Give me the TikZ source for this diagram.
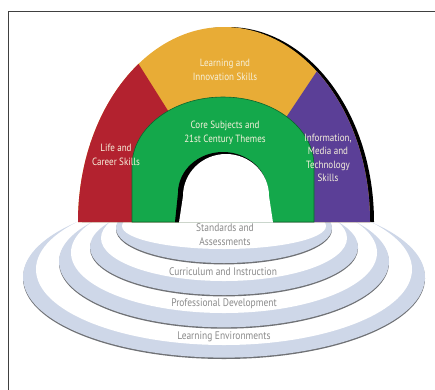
\documentclass[tikz,border=0pt]{standalone}
\usepackage{fontspec}
\setmainfont{PT Sans}[FakeStretch=0.86]
\usetikzlibrary{calc,positioning}

\definecolor{lifered}{HTML}{B3222F}
\definecolor{innoyellow}{HTML}{E8AC36}
\definecolor{coregreen}{HTML}{14A84B}
\definecolor{mediapurple}{HTML}{5B3F97}
\definecolor{ringblue}{HTML}{CED7E8}
\definecolor{ringline}{HTML}{6F7175}
\definecolor{ringtext}{HTML}{8A8A8A}
\definecolor{archtext}{HTML}{F6F1DC}

\tikzset{
  archlabel/.style={text=archtext, align=center, inner sep=0pt, font=\fontsize{10.5}{13.5}\selectfont},
  ringlabel/.style={text=ringtext, align=center, inner sep=0pt, font=\fontsize{11}{14}\selectfont},
}

\begin{document}
\begin{tikzpicture}[x=1pt,y=-1pt]
\useasboundingbox (0,0) rectangle (435,389);
% frame
\draw[black!75, line width=1pt] (8,395) -- (8,11) -- (440,11);

% rings: outer x/y radius, centre y, inner x/y radius, inner centre y
\foreach \a/\b/\c/\ia/\ib/\ic in {201/80.6/277/188/75.7/269.3,
                                  165/65.8/261.5/153/60.4/252.6,
                                  134/47.9/247.1/123/42.9/238.1,
                                  108/35/228/102/23/226}{
  \fill[ringline] (224,\c+1.4) ellipse [x radius=\a, y radius=\b];
  \fill[ringblue] (224,\c) ellipse [x radius=\a, y radius=\b];
  \fill[white] (224,\ic) ellipse [x radius=\ia, y radius=\ib];
}

% arch shadow
\fill[black] (82,222) arc[start angle=180, end angle=360, x radius=146, y radius=195] -- cycle;
% outer arch in three parts
\begin{scope}
\clip (78,222) arc[start angle=180, end angle=360, x radius=146, y radius=195] -- cycle;
\fill[innoyellow] (0,0) rectangle (435,225);
\coordinate (RY) at (138,63);
\coordinate (RY') at (172,117);
\coordinate (YP) at (317,71);
\coordinate (YP') at (283,122);
\fill[lifered] ($(RY)!-2!(RY')$) -- ($(RY)!3!(RY')$) -- (0,225) -- (0,-60) -- cycle;
\fill[mediapurple] ($(YP)!-2!(YP')$) -- ($(YP)!3!(YP')$) -- (440,225) -- (440,-60) -- cycle;
\end{scope}

% inner arch
\filldraw[fill=coregreen, draw=coregreen!60!black, line width=0.6pt]
  (132,222) -- (132,166) arc[start angle=180, end angle=360, x radius=91, y radius=69] -- (314,222) -- cycle;
% opening
\fill[black] (175,222) -- (178,193) arc[start angle=180, end angle=360, x radius=45, y radius=41] -- (270,222) -- cycle;
\fill[white] (179,222.5) -- (183,196) arc[start angle=180, end angle=360, x radius=43, y radius=42] -- (273,222.5) -- cycle;

% labels
\node[archlabel] (inno) at (225,70) {Learning and\\Innovation Skills};
\node[archlabel] (life) at (116,155) {Life and\\Career Skills};
\node[archlabel] (core) at (225,133) {Core Subjects and\\21st Century Themes};
\node[archlabel] (media) at (328,158) {Information,\\Media and\\Technology\\Skills};

\node[ringlabel] (stand) at (225,235) {Standards and\\Assessments};
\node[ringlabel] (curr) at (223,272) {Curriculum and Instruction};
\node[ringlabel] (prof) at (224,304) {Professional Development};
\node[ringlabel] (envi) at (224,337) {Learning Environments};
\end{tikzpicture}
\end{document}
